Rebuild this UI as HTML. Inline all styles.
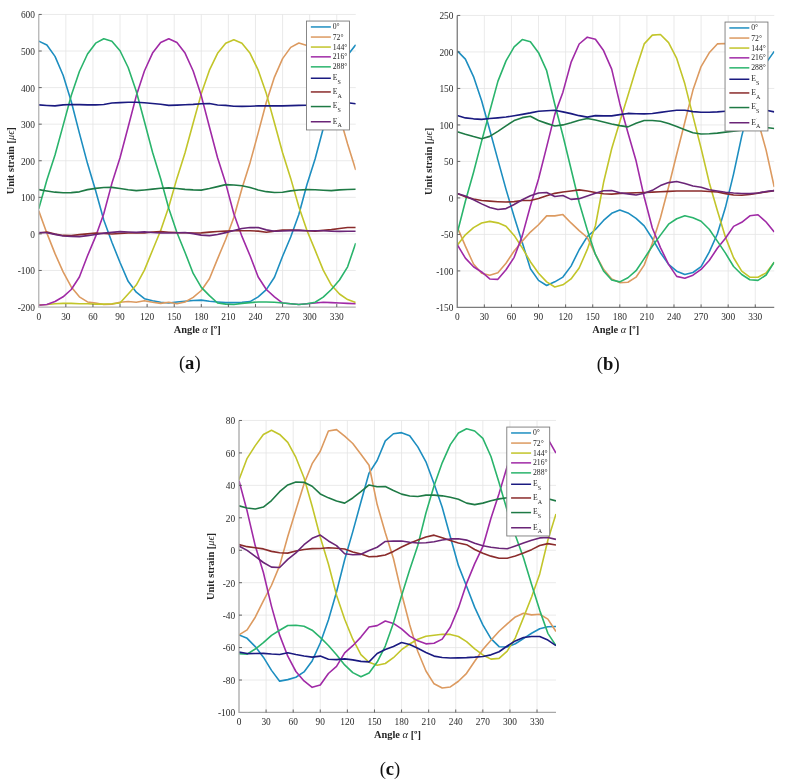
<!DOCTYPE html>
<html><head><meta charset="utf-8"><title>Unit strain vs angle</title>
<style>
html,body{margin:0;padding:0;background:#fff;}
svg{display:block;}
.tk{font-family:"Liberation Serif",serif;font-size:9.4px;fill:#2a2a2a;}
.xl{font-family:"Liberation Serif",serif;font-size:10.4px;font-weight:bold;fill:#262626;}
.al{font-style:italic;font-weight:normal;}
.cap{font-family:"Liberation Serif",serif;font-size:18.6px;fill:#111;}
.lg{font-family:"Liberation Serif",serif;font-size:7.7px;fill:#1e1e1e;}
.lgs{font-family:"Liberation Serif",serif;font-size:6.0px;fill:#1e1e1e;}
.lgp{font-family:"Liberation Serif",serif;font-size:4px;fill:#999;}
</style></head>
<body>
<svg width="785" height="784" viewBox="0 0 785 784">
<rect width="785" height="784" fill="#fff"/>
<clipPath id="clipa"><rect x="38.75" y="13.45" width="316.99" height="294.6"/></clipPath>
<path d="M65.84 14.45V307.05M92.94 14.45V307.05M120.03 14.45V307.05M147.12 14.45V307.05M174.22 14.45V307.05M201.31 14.45V307.05M228.4 14.45V307.05M255.49 14.45V307.05M282.59 14.45V307.05M309.68 14.45V307.05M336.77 14.45V307.05M38.75 270.48H355.74M38.75 233.9H355.74M38.75 197.32H355.74M38.75 160.75H355.74M38.75 124.17H355.74M38.75 87.6H355.74M38.75 51.03H355.74M38.75 14.45H355.74" stroke="#e4e4e4" stroke-width="0.8" fill="none"/>
<polyline clip-path="url(#clipa)" points="38.75,41.15 46.88,45.09 55.01,56.36 63.13,75.29 71.26,101.43 79.39,133.13 87.52,163.6 95.65,190.74 103.77,219.92 111.9,242.21 120.03,262.55 128.16,281.35 136.28,292.22 144.41,298.7 152.54,300.83 160.67,302.3 168.8,303.03 176.92,301.93 185.05,301.2 193.18,300.47 201.31,300.1 209.44,301.2 217.56,301.93 225.69,302.66 233.82,302.66 241.95,302.3 250.08,301.58 258.2,296.86 266.33,289.61 274.46,277.28 282.59,256.24 290.71,237.02 298.84,214.53 306.97,184.42 315.1,159.03 323.23,128.56 331.35,97.73 339.48,73.07 347.61,55.3 355.74,44.78" stroke="#1d8ec0" stroke-width="1.6" fill="none" stroke-linejoin="round"/>
<polyline clip-path="url(#clipa)" points="38.75,210.86 46.88,233.17 55.01,253.65 63.13,271.94 71.26,286.93 79.39,296.81 87.52,301.93 95.65,303.03 103.77,304.49 111.9,304.12 120.03,302.3 128.16,301.56 136.28,302.3 144.41,300.83 152.54,302.3 160.67,303.39 168.8,302.3 176.92,303.76 185.05,301.93 193.18,297.42 201.31,290.49 209.44,278.79 217.56,258.83 225.69,239.51 233.82,217.51 241.95,188.41 250.08,162.64 258.2,132.91 266.33,102.29 274.46,77.08 282.59,58.64 290.71,47.38 298.84,43.01 306.97,45.59 315.1,54.13 323.23,68.82 331.35,89.48 339.48,115.64 347.61,143.98 355.74,170.11" stroke="#dc9a60" stroke-width="1.6" fill="none" stroke-linejoin="round"/>
<polyline clip-path="url(#clipa)" points="38.75,304.86 46.88,304.49 55.01,303.76 63.13,303.39 71.26,303.39 79.39,303.76 87.52,303.76 95.65,304.12 103.77,304.12 111.9,303.76 120.03,303.03 128.16,293.98 136.28,285.07 144.41,270.15 152.54,250.18 160.67,230.54 168.8,206.77 176.92,178.4 185.05,152.71 193.18,122.94 201.31,93.61 209.44,70.18 217.56,53.28 225.69,43.22 233.82,39.69 241.95,43.22 250.08,53.28 258.2,70.18 266.33,93.61 274.46,122.94 282.59,152.71 290.71,178.4 298.84,206.77 306.97,230.54 315.1,250.18 323.23,270.15 331.35,285.07 339.48,293.98 347.61,299.58 355.74,302.57" stroke="#c2c52a" stroke-width="1.6" fill="none" stroke-linejoin="round"/>
<polyline clip-path="url(#clipa)" points="38.75,305.22 46.88,304.49 55.01,301.56 63.13,296.8 71.26,289.48 79.39,277.04 87.52,255.81 95.65,236.41 103.77,213.72 111.9,183.34 120.03,157.72 128.16,126.98 136.28,95.87 144.41,70.98 152.54,53.05 160.67,42.43 168.8,38.77 176.92,42.43 185.05,53.05 193.18,70.98 201.31,95.87 209.44,126.98 217.56,157.72 225.69,183.34 233.82,213.72 241.95,236.41 250.08,255.81 258.2,277.04 266.33,289.48 274.46,296.8 282.59,303.03 290.71,303.76 298.84,304.49 306.97,303.76 315.1,303.03 323.23,302.3 331.35,302.66 339.48,303.03 347.61,303.39 355.74,303.76" stroke="#a02aa6" stroke-width="1.6" fill="none" stroke-linejoin="round"/>
<polyline clip-path="url(#clipa)" points="38.75,208.67 46.88,180.01 55.01,154.96 63.13,125.37 71.26,95.44 79.39,71.5 87.52,53.97 95.65,43.17 103.77,38.81 111.9,41.28 120.03,50.75 128.16,67.5 136.28,91.28 144.41,121.42 152.54,152.29 160.67,178.82 168.8,208.46 176.92,232.49 185.05,252.47 193.18,273.44 201.31,287.38 209.44,295.57 217.56,303.03 225.69,304.12 233.82,304.49 241.95,303.39 250.08,302.66 258.2,301.93 266.33,301.93 274.46,302.3 282.59,303.03 290.71,303.76 298.84,304.49 306.97,303.76 315.1,302.3 323.23,297.17 331.35,289.49 339.48,279.98 347.61,266.82 355.74,243.04" stroke="#2ab46c" stroke-width="1.6" fill="none" stroke-linejoin="round"/>
<polyline clip-path="url(#clipa)" points="38.75,104.9 46.88,105.46 55.01,105.85 63.13,104.88 71.26,104.5 79.39,104.64 87.52,104.9 95.65,104.9 103.77,104.5 111.9,102.96 120.03,102.63 128.16,102.21 136.28,102.19 144.41,102.79 152.54,103.47 160.67,104.19 168.8,105.38 176.92,105.08 185.05,104.72 193.18,104.33 201.31,103.75 209.44,103.43 217.56,105.04 225.69,105.34 233.82,106.29 241.95,106.4 250.08,106.19 258.2,105.89 266.33,105.89 274.46,105.89 282.59,105.89 290.71,105.64 298.84,105.4 306.97,105.16 315.1,104.61 323.23,104.06 331.35,102.96 339.48,101.86 347.61,102.78 355.74,103.69" stroke="#1a1a80" stroke-width="1.6" fill="none" stroke-linejoin="round"/>
<polyline clip-path="url(#clipa)" points="38.75,232.95 46.88,232.05 55.01,234.13 63.13,235.42 71.26,235.46 79.39,234.64 87.52,233.83 95.65,233.04 103.77,233.45 111.9,234.01 120.03,233.45 128.16,232.95 136.28,232.95 144.41,232.95 152.54,231.99 160.67,231.67 168.8,232.18 176.92,232.58 185.05,232.77 193.18,232.94 201.31,232.84 209.44,232.1 217.56,231.52 225.69,231.13 233.82,230.79 241.95,230.79 250.08,230.79 258.2,231.14 266.33,232.18 274.46,231.14 282.59,230.13 290.71,230.13 298.84,230.25 306.97,230.77 315.1,231.15 323.23,230.4 331.35,229.6 339.48,228.46 347.61,227.57 355.74,227.57" stroke="#8a2b2b" stroke-width="1.6" fill="none" stroke-linejoin="round"/>
<polyline clip-path="url(#clipa)" points="38.75,189.64 46.88,190.96 55.01,192.17 63.13,192.75 71.26,192.66 79.39,191.84 87.52,189.64 95.65,188.36 103.77,187.57 111.9,187.41 120.03,188.46 128.16,189.69 136.28,190.66 144.41,189.96 152.54,189.15 160.67,188.26 168.8,187.89 176.92,188.55 185.05,189.37 193.18,189.85 201.31,190.09 209.44,188.53 217.56,186.63 225.69,184.63 233.82,185.01 241.95,185.8 250.08,187.45 258.2,189.92 266.33,191.66 274.46,192.57 282.59,192.27 290.71,190.89 298.84,190.01 306.97,189.64 315.1,189.76 323.23,190.28 331.35,190.65 339.48,189.83 347.61,189.48 355.74,189.28" stroke="#1e7a45" stroke-width="1.6" fill="none" stroke-linejoin="round"/>
<polyline clip-path="url(#clipa)" points="38.75,232.51 46.88,232.81 55.01,234.38 63.13,236.02 71.26,236.41 79.39,236.64 87.52,235.66 95.65,234.49 103.77,233.1 111.9,232.35 120.03,231.67 128.16,231.98 136.28,232.35 144.41,231.85 152.54,232.56 160.67,232.95 168.8,232.95 176.92,232.77 185.05,232.58 193.18,233.62 201.31,235.16 209.44,235.63 217.56,234.47 225.69,232.64 233.82,230.56 241.95,228.44 250.08,227.54 258.2,227.6 266.33,229.88 274.46,231.3 282.59,231.01 290.71,230.61 298.84,230.41 306.97,230.7 315.1,230.79 323.23,230.79 331.35,231.21 339.48,231.41 347.61,231.32 355.74,231.23" stroke="#6a2577" stroke-width="1.6" fill="none" stroke-linejoin="round"/>
<path d="M38.75 14.45V307.05H355.74" stroke="#b4b4b4" stroke-width="1.3" fill="none"/>
<path d="M65.84 307.05v-3M92.94 307.05v-3M120.03 307.05v-3M147.12 307.05v-3M174.22 307.05v-3M201.31 307.05v-3M228.4 307.05v-3M255.49 307.05v-3M282.59 307.05v-3M309.68 307.05v-3M336.77 307.05v-3M38.75 270.48h3M38.75 233.9h3M38.75 197.32h3M38.75 160.75h3M38.75 124.17h3M38.75 87.6h3M38.75 51.03h3M38.75 14.45h3" stroke="#555" stroke-width="0.9" fill="none"/>
<text x="38.75" y="319.65" class="tk" text-anchor="middle">0</text>
<text x="65.84" y="319.65" class="tk" text-anchor="middle">30</text>
<text x="92.94" y="319.65" class="tk" text-anchor="middle">60</text>
<text x="120.03" y="319.65" class="tk" text-anchor="middle">90</text>
<text x="147.12" y="319.65" class="tk" text-anchor="middle">120</text>
<text x="174.22" y="319.65" class="tk" text-anchor="middle">150</text>
<text x="201.31" y="319.65" class="tk" text-anchor="middle">180</text>
<text x="228.4" y="319.65" class="tk" text-anchor="middle">210</text>
<text x="255.49" y="319.65" class="tk" text-anchor="middle">240</text>
<text x="282.59" y="319.65" class="tk" text-anchor="middle">270</text>
<text x="309.68" y="319.65" class="tk" text-anchor="middle">300</text>
<text x="336.77" y="319.65" class="tk" text-anchor="middle">330</text>
<text x="34.95" y="310.95" class="tk" text-anchor="end">-200</text>
<text x="34.95" y="274.38" class="tk" text-anchor="end">-100</text>
<text x="34.95" y="237.8" class="tk" text-anchor="end">0</text>
<text x="34.95" y="201.22" class="tk" text-anchor="end">100</text>
<text x="34.95" y="164.65" class="tk" text-anchor="end">200</text>
<text x="34.95" y="128.07" class="tk" text-anchor="end">300</text>
<text x="34.95" y="91.5" class="tk" text-anchor="end">400</text>
<text x="34.95" y="54.93" class="tk" text-anchor="end">500</text>
<text x="34.95" y="18.35" class="tk" text-anchor="end">600</text>
<text x="197.24" y="332.65" class="xl" text-anchor="middle">Angle <tspan class="al">α</tspan> [º]</text>
<text transform="translate(13.75 160.75) rotate(-90)" class="xl" text-anchor="middle">Unit strain [<tspan class="al">μϵ</tspan>]</text>
<text x="189.74" y="369.15" class="cap" text-anchor="middle">(<tspan font-weight="bold">a</tspan>)</text>
<rect x="306.54" y="21.05" width="42.9" height="108.9" fill="#fff" stroke="#7a7a7a" stroke-width="0.9"/>
<path d="M310.84 26.95h20" stroke="#1d8ec0" stroke-width="1.5"/>
<text x="332.74" y="29.45" class="lg">0°</text>
<path d="M310.84 37.05h20" stroke="#dc9a60" stroke-width="1.5"/>
<text x="332.74" y="39.55" class="lg">72°</text>
<path d="M310.84 47.05h20" stroke="#c2c52a" stroke-width="1.5"/>
<text x="332.74" y="49.55" class="lg">144°</text>
<path d="M310.84 56.85h20" stroke="#a02aa6" stroke-width="1.5"/>
<text x="332.74" y="59.35" class="lg">216°</text>
<path d="M310.84 66.85h20" stroke="#2ab46c" stroke-width="1.5"/>
<text x="332.74" y="69.35" class="lg">288°</text>
<path d="M310.84 78.25h20" stroke="#1a1a80" stroke-width="1.5"/>
<text x="332.74" y="80.15" class="lg">E</text>
<text x="337.54" y="83.95" class="lgs">S</text>
<path d="M310.84 91.95h20" stroke="#8a2b2b" stroke-width="1.5"/>
<text x="332.74" y="93.85" class="lg">E</text>
<text x="337.54" y="97.65" class="lgs">A</text>
<path d="M310.84 106.55h20" stroke="#1e7a45" stroke-width="1.5"/>
<text x="332.74" y="108.45" class="lg">E</text>
<text x="337.54" y="112.25" class="lgs">S</text>
<text x="337.94" y="104.95" class="lgp">'</text>
<path d="M310.84 121.75h20" stroke="#6a2577" stroke-width="1.5"/>
<text x="332.74" y="123.65" class="lg">E</text>
<text x="337.54" y="127.45" class="lgs">A</text>
<text x="337.94" y="120.15" class="lgp">'</text>
<clipPath id="clipb"><rect x="457.25" y="14.45" width="316.99" height="293.95"/></clipPath>
<path d="M484.34 15.45V307.4M511.44 15.45V307.4M538.53 15.45V307.4M565.62 15.45V307.4M592.72 15.45V307.4M619.81 15.45V307.4M646.9 15.45V307.4M673.99 15.45V307.4M701.09 15.45V307.4M728.18 15.45V307.4M755.27 15.45V307.4M457.25 270.91H774.24M457.25 234.41H774.24M457.25 197.92H774.24M457.25 161.42H774.24M457.25 124.93H774.24M457.25 88.44H774.24M457.25 51.94H774.24M457.25 15.45H774.24" stroke="#e4e4e4" stroke-width="0.8" fill="none"/>
<polyline clip-path="url(#clipb)" points="457.25,50.85 465.38,59.14 473.51,76.58 481.63,100.79 489.76,130.07 497.89,159.91 506.02,189.34 514.15,216.71 522.27,242.53 530.4,268.72 538.53,280.39 546.66,285.5 554.78,281.85 562.91,277.07 571.04,266.12 579.17,249.74 587.3,236.6 595.42,229.49 603.55,220.43 611.68,213.3 619.81,209.96 627.94,212.88 636.06,218.36 644.19,225.88 652.32,238.52 660.45,252.7 668.58,264.34 676.7,271.18 684.83,274.56 692.96,272.5 701.09,266.53 709.21,252.16 717.34,233.98 725.47,207.32 733.6,173.83 741.73,136.13 749.85,104.49 757.98,81.14 766.11,62.89 774.24,51.36" stroke="#1d8ec0" stroke-width="1.6" fill="none" stroke-linejoin="round"/>
<polyline clip-path="url(#clipb)" points="457.25,227.11 465.38,246.17 473.51,264.03 481.63,273.19 489.76,275.21 497.89,272.78 506.02,263.2 514.15,250.98 522.27,241.14 530.4,232.06 538.53,224.73 546.66,215.87 554.78,215.86 562.91,214.57 571.04,222.94 579.17,230.56 587.3,237.51 595.42,254.28 603.55,269.35 611.68,279 619.81,282.58 627.94,282.25 636.06,277.18 644.19,265.14 652.32,243.26 660.45,217.72 668.58,186.97 676.7,154.25 684.83,122.19 692.96,90.08 701.09,66.54 709.21,52.81 717.34,43.92 725.47,43.54 733.6,50.08 741.73,67.03 749.85,91.68 757.98,120.88 766.11,150.11 774.24,186.97" stroke="#dc9a60" stroke-width="1.6" fill="none" stroke-linejoin="round"/>
<polyline clip-path="url(#clipb)" points="457.25,245.36 465.38,234.82 473.51,227.67 481.63,223 489.76,221.35 497.89,222.84 506.02,226.32 514.15,235.42 522.27,247.86 530.4,261.68 538.53,273.29 546.66,281.91 554.78,286.95 562.91,284.8 571.04,278.9 579.17,268.03 587.3,249.43 595.42,225.73 603.55,182.53 611.68,148.79 619.81,121.85 627.94,95.42 636.06,68.73 644.19,43.89 652.32,35.16 660.45,34.47 668.58,42.67 676.7,58.47 684.83,83.84 692.96,116.17 701.09,148.29 709.21,182.41 717.34,210.47 725.47,237.15 733.6,257.77 741.73,271.09 749.85,277.18 757.98,277.18 766.11,272.88 774.24,262.15" stroke="#c2c52a" stroke-width="1.6" fill="none" stroke-linejoin="round"/>
<polyline clip-path="url(#clipb)" points="457.25,244.63 465.38,258.16 473.51,266.75 481.63,271.96 489.76,278.96 497.89,279.35 506.02,269.77 514.15,257.33 522.27,235.87 530.4,205.96 538.53,178.94 546.66,146.83 554.78,114.35 562.91,92.16 571.04,62.42 579.17,44 587.3,37.15 595.42,39.25 603.55,50.58 611.68,69.14 619.81,103.66 627.94,132.72 636.06,160.84 644.19,197 652.32,227.97 660.45,247.59 668.58,264.34 676.7,276.38 684.83,278.2 692.96,275.19 701.09,269.45 709.21,260.55 717.34,248.22 725.47,238.18 733.6,226.38 741.73,222.28 749.85,215.8 757.98,214.77 766.11,222 774.24,231.93" stroke="#a02aa6" stroke-width="1.6" fill="none" stroke-linejoin="round"/>
<polyline clip-path="url(#clipb)" points="457.25,232.95 465.38,201.31 473.51,172.42 481.63,141.1 489.76,111.18 497.89,81.41 506.02,60.91 514.15,46.83 522.27,39.54 530.4,41.73 538.53,52.67 546.66,70.69 554.78,104.26 562.91,135.46 571.04,169.06 579.17,202.49 587.3,229.91 595.42,254.4 603.55,270.98 611.68,280.06 619.81,281.85 627.94,277.74 636.06,270.69 644.19,258.58 652.32,246.27 660.45,235.14 668.58,224.19 676.7,218.72 684.83,215.8 692.96,217.79 701.09,221.27 709.21,229.28 717.34,241.1 725.47,253.17 733.6,266.53 741.73,274.46 749.85,279.72 757.98,280.39 766.11,274.99 774.24,262.15" stroke="#2ab46c" stroke-width="1.6" fill="none" stroke-linejoin="round"/>
<polyline clip-path="url(#clipb)" points="457.25,115.44 465.38,117.9 473.51,118.83 481.63,119.35 489.76,118.54 497.89,117.84 506.02,117 514.15,115.73 522.27,114.34 530.4,112.87 538.53,111.21 546.66,110.71 554.78,110.21 562.91,111.85 571.04,113.64 579.17,115.66 587.3,117.09 595.42,115.59 603.55,115.83 611.68,115.88 619.81,114.59 627.94,113.42 636.06,113.74 644.19,113.89 652.32,113.45 660.45,112.37 668.58,111.21 676.7,110.21 684.83,110.19 692.96,111.65 701.09,112.3 709.21,112.3 717.34,111.85 725.47,111.2 733.6,111.03 741.73,110.85 749.85,110.68 757.98,110.51 766.11,110.33 774.24,111.87" stroke="#1a1a80" stroke-width="1.6" fill="none" stroke-linejoin="round"/>
<polyline clip-path="url(#clipb)" points="457.25,193.54 465.38,196.88 473.51,198.92 481.63,200.57 489.76,201.15 497.89,201.68 506.02,202.06 514.15,201.62 522.27,200.55 530.4,200.55 538.53,198.44 546.66,195.81 554.78,193.35 562.91,192.06 571.04,191.05 579.17,189.89 587.3,191.08 595.42,192.44 603.55,193.7 611.68,194.14 619.81,193.54 627.94,193.17 636.06,192.81 644.19,192.46 652.32,192.12 660.45,191.74 668.58,191.36 676.7,191.06 684.83,191.06 692.96,191.06 701.09,191.06 709.21,191.54 717.34,192.03 725.47,193.64 733.6,195 741.73,195.27 749.85,194.45 757.98,193.09 766.11,191.86 774.24,190.62" stroke="#8a2b2b" stroke-width="1.6" fill="none" stroke-linejoin="round"/>
<polyline clip-path="url(#clipb)" points="457.25,131.65 465.38,134.22 473.51,136.59 481.63,138.7 489.76,136.39 497.89,131.36 506.02,125.83 514.15,120.55 522.27,117.63 530.4,116.32 538.53,120.55 546.66,123.38 554.78,126.05 562.91,124.91 571.04,122.7 579.17,120.24 587.3,118.52 595.42,119.97 603.55,121.97 611.68,123.98 619.81,125.6 627.94,126.88 636.06,123.32 644.19,120.55 652.32,120.55 660.45,121.31 668.58,123.59 676.7,126.61 684.83,129.77 692.96,132.74 701.09,133.95 709.21,133.75 717.34,133.08 725.47,132.17 733.6,131.25 741.73,130.33 749.85,129.41 757.98,128.48 766.11,127.56 774.24,128.58" stroke="#1e7a45" stroke-width="1.6" fill="none" stroke-linejoin="round"/>
<polyline clip-path="url(#clipb)" points="457.25,193.54 465.38,195.97 473.51,199.74 481.63,203.89 489.76,207.43 497.89,209.57 506.02,208.59 514.15,204.52 522.27,199.76 530.4,195.82 538.53,192.96 546.66,192.43 554.78,196.46 562.91,195.44 571.04,199.38 579.17,198.65 587.3,195.94 595.42,193.25 603.55,190.71 611.68,190.47 619.81,192.81 627.94,193.9 636.06,195 644.19,193.29 652.32,190.36 660.45,185.57 668.58,182.59 676.7,181.43 684.83,183.47 692.96,186.07 701.09,187.19 709.21,189.79 717.34,190.94 725.47,192.25 733.6,193.01 741.73,193.54 749.85,193.63 757.98,193.07 766.11,191.5 774.24,190.62" stroke="#6a2577" stroke-width="1.6" fill="none" stroke-linejoin="round"/>
<path d="M457.25 15.45V307.4H774.24" stroke="#7c7c7c" stroke-width="1.3" fill="none"/>
<path d="M484.34 307.4v-3M511.44 307.4v-3M538.53 307.4v-3M565.62 307.4v-3M592.72 307.4v-3M619.81 307.4v-3M646.9 307.4v-3M673.99 307.4v-3M701.09 307.4v-3M728.18 307.4v-3M755.27 307.4v-3M457.25 270.91h3M457.25 234.41h3M457.25 197.92h3M457.25 161.42h3M457.25 124.93h3M457.25 88.44h3M457.25 51.94h3M457.25 15.45h3" stroke="#555" stroke-width="0.9" fill="none"/>
<text x="457.25" y="320" class="tk" text-anchor="middle">0</text>
<text x="484.34" y="320" class="tk" text-anchor="middle">30</text>
<text x="511.44" y="320" class="tk" text-anchor="middle">60</text>
<text x="538.53" y="320" class="tk" text-anchor="middle">90</text>
<text x="565.62" y="320" class="tk" text-anchor="middle">120</text>
<text x="592.72" y="320" class="tk" text-anchor="middle">150</text>
<text x="619.81" y="320" class="tk" text-anchor="middle">180</text>
<text x="646.9" y="320" class="tk" text-anchor="middle">210</text>
<text x="673.99" y="320" class="tk" text-anchor="middle">240</text>
<text x="701.09" y="320" class="tk" text-anchor="middle">270</text>
<text x="728.18" y="320" class="tk" text-anchor="middle">300</text>
<text x="755.27" y="320" class="tk" text-anchor="middle">330</text>
<text x="453.45" y="311.3" class="tk" text-anchor="end">-150</text>
<text x="453.45" y="274.81" class="tk" text-anchor="end">-100</text>
<text x="453.45" y="238.31" class="tk" text-anchor="end">-50</text>
<text x="453.45" y="201.82" class="tk" text-anchor="end">0</text>
<text x="453.45" y="165.32" class="tk" text-anchor="end">50</text>
<text x="453.45" y="128.83" class="tk" text-anchor="end">100</text>
<text x="453.45" y="92.34" class="tk" text-anchor="end">150</text>
<text x="453.45" y="55.84" class="tk" text-anchor="end">200</text>
<text x="453.45" y="19.35" class="tk" text-anchor="end">250</text>
<text x="615.74" y="333" class="xl" text-anchor="middle">Angle <tspan class="al">α</tspan> [º]</text>
<text transform="translate(432.25 161.42) rotate(-90)" class="xl" text-anchor="middle">Unit strain [<tspan class="al">μϵ</tspan>]</text>
<text x="608.24" y="369.5" class="cap" text-anchor="middle">(<tspan font-weight="bold">b</tspan>)</text>
<rect x="725.04" y="22.05" width="42.9" height="108.9" fill="#fff" stroke="#7a7a7a" stroke-width="0.9"/>
<path d="M729.34 27.95h20" stroke="#1d8ec0" stroke-width="1.5"/>
<text x="751.24" y="30.45" class="lg">0°</text>
<path d="M729.34 38.05h20" stroke="#dc9a60" stroke-width="1.5"/>
<text x="751.24" y="40.55" class="lg">72°</text>
<path d="M729.34 48.05h20" stroke="#c2c52a" stroke-width="1.5"/>
<text x="751.24" y="50.55" class="lg">144°</text>
<path d="M729.34 57.85h20" stroke="#a02aa6" stroke-width="1.5"/>
<text x="751.24" y="60.35" class="lg">216°</text>
<path d="M729.34 67.85h20" stroke="#2ab46c" stroke-width="1.5"/>
<text x="751.24" y="70.35" class="lg">288°</text>
<path d="M729.34 79.25h20" stroke="#1a1a80" stroke-width="1.5"/>
<text x="751.24" y="81.15" class="lg">E</text>
<text x="756.04" y="84.95" class="lgs">S</text>
<path d="M729.34 92.95h20" stroke="#8a2b2b" stroke-width="1.5"/>
<text x="751.24" y="94.85" class="lg">E</text>
<text x="756.04" y="98.65" class="lgs">A</text>
<path d="M729.34 107.55h20" stroke="#1e7a45" stroke-width="1.5"/>
<text x="751.24" y="109.45" class="lg">E</text>
<text x="756.04" y="113.25" class="lgs">S</text>
<text x="756.44" y="105.95" class="lgp">'</text>
<path d="M729.34 122.75h20" stroke="#6a2577" stroke-width="1.5"/>
<text x="751.24" y="124.65" class="lg">E</text>
<text x="756.04" y="128.45" class="lgs">A</text>
<text x="756.44" y="121.15" class="lgp">'</text>
<clipPath id="clipc"><rect x="239" y="419.47" width="316.99" height="294"/></clipPath>
<path d="M266.09 420.47V712.47M293.19 420.47V712.47M320.28 420.47V712.47M347.37 420.47V712.47M374.47 420.47V712.47M401.56 420.47V712.47M428.65 420.47V712.47M455.74 420.47V712.47M482.84 420.47V712.47M509.93 420.47V712.47M537.02 420.47V712.47M239 680.03H555.99M239 647.58H555.99M239 615.14H555.99M239 582.69H555.99M239 550.25H555.99M239 517.8H555.99M239 485.36H555.99M239 452.91H555.99M239 420.47H555.99" stroke="#e4e4e4" stroke-width="0.8" fill="none"/>
<polyline clip-path="url(#clipc)" points="239,634.93 247.13,638.34 255.26,646.61 263.38,657.17 271.51,670.36 279.64,681.16 287.77,679.63 295.9,677.23 304.02,671.91 312.15,660.9 320.28,642.98 328.41,620.02 336.53,591.94 344.66,559.82 352.79,531.61 360.92,501.98 369.05,473.07 377.17,460.48 385.3,440.91 393.43,433.74 401.56,432.65 409.69,435.72 417.81,446.86 425.94,461.84 434.07,483.72 442.2,507.28 450.33,536.78 458.45,565.66 466.58,586.27 474.71,607.41 482.84,624.9 490.96,638.6 499.09,646.69 507.22,647.01 515.35,643.76 523.48,638.58 531.6,633.27 539.73,628.78 547.86,626.74 555.99,626.49" stroke="#1d8ec0" stroke-width="1.6" fill="none" stroke-linejoin="round"/>
<polyline clip-path="url(#clipc)" points="239,634.93 247.13,629.87 255.26,617.21 263.38,600.95 271.51,585.25 279.64,565.66 287.77,536.44 295.9,509.98 304.02,483.95 312.15,463.68 320.28,451.24 328.41,431.07 336.53,429.63 344.66,436.21 352.79,443.51 360.92,454.22 369.05,465.28 377.17,504.57 385.3,532.75 393.43,558.5 401.56,593.43 409.69,624.68 417.81,651.55 425.94,670.97 434.07,683.82 442.2,687.97 450.33,686.92 458.45,681.23 466.58,673.32 474.71,661.27 482.84,649.43 490.96,640.16 499.09,631.28 507.22,623.83 515.35,616.9 523.48,613.3 531.6,614.88 539.73,614.3 547.86,619.14 555.99,631.52" stroke="#dc9a60" stroke-width="1.6" fill="none" stroke-linejoin="round"/>
<polyline clip-path="url(#clipc)" points="239,479.84 247.13,458.34 255.26,445.61 263.38,434.42 271.51,430.2 279.64,434.42 287.77,442.36 295.9,457.44 304.02,477.77 312.15,506.22 320.28,537.24 328.41,564.03 336.53,595.15 344.66,619.19 352.79,639.18 360.92,654.65 369.05,662.24 377.17,665.32 385.3,663.52 393.43,657.71 401.56,649.7 409.69,643.98 417.81,639.23 425.94,636.17 434.07,635.2 442.2,634.18 450.33,634.41 458.45,636.51 466.58,641.66 474.71,648.88 482.84,654.96 490.96,659.1 499.09,658.34 507.22,651.05 515.35,637.81 523.48,617.59 531.6,597.04 539.73,573.93 547.86,540.27 555.99,513.91" stroke="#c2c52a" stroke-width="1.6" fill="none" stroke-linejoin="round"/>
<polyline clip-path="url(#clipc)" points="239,480.65 247.13,511.08 255.26,545.83 263.38,572.55 271.51,606.36 279.64,635.16 287.77,656.21 295.9,671.5 304.02,680.9 312.15,687.33 320.28,685 328.41,673.5 336.53,666.43 344.66,652.95 352.79,645.69 360.92,637.09 369.05,627.03 377.17,625.62 385.3,621.06 393.43,623.4 401.56,628.83 409.69,636.09 417.81,640.85 425.94,643.85 434.07,643.3 442.2,639.15 450.33,627.24 458.45,607.9 466.58,583.39 474.71,563.6 482.84,546.71 490.96,518.27 499.09,493.43 507.22,466.24 515.35,449.13 523.48,439.4 531.6,434.53 539.73,434.53 547.86,438.88 555.99,453.08" stroke="#a02aa6" stroke-width="1.6" fill="none" stroke-linejoin="round"/>
<polyline clip-path="url(#clipc)" points="239,653.75 247.13,654.11 255.26,649.01 263.38,642.71 271.51,635.41 279.64,630.22 287.77,625.52 295.9,625.19 304.02,626.17 312.15,630.22 320.28,637.36 328.41,645.47 336.53,654.72 344.66,664.94 352.79,672.64 360.92,676.78 369.05,673.03 377.17,662.08 385.3,646.09 393.43,623.06 401.56,595.71 409.69,569.71 417.81,545.39 425.94,512.94 434.07,485.71 442.2,462.81 450.33,444.6 458.45,432.94 466.58,428.81 474.71,430.97 482.84,438.41 490.96,456.5 499.09,482.74 507.22,510.67 515.35,535.15 523.48,557.82 531.6,584.55 539.73,610.36 547.86,633.32 555.99,645.63" stroke="#2ab46c" stroke-width="1.6" fill="none" stroke-linejoin="round"/>
<polyline clip-path="url(#clipc)" points="239,652.12 247.13,653.58 255.26,653.5 263.38,653.34 271.51,654.07 279.64,654.48 287.77,652.8 295.9,654.53 304.02,656.02 312.15,657.13 320.28,656.09 328.41,659.32 336.53,659.64 344.66,658.88 352.79,659.91 360.92,661.39 369.05,661.86 377.17,653.48 385.3,649.55 393.43,646.53 401.56,642.5 409.69,644.57 417.81,648.31 425.94,652.45 434.07,656.1 442.2,657.56 450.33,657.96 458.45,657.87 466.58,657.61 474.71,657.13 482.84,656.46 490.96,654.85 499.09,651.74 507.22,646.02 515.35,640.93 523.48,637.57 531.6,636.55 539.73,636.55 547.86,640.05 555.99,645.63" stroke="#1a1a80" stroke-width="1.6" fill="none" stroke-linejoin="round"/>
<polyline clip-path="url(#clipc)" points="239,544.57 247.13,546.65 255.26,547.76 263.38,548.91 271.51,551.38 279.64,552.75 287.77,553.1 295.9,551.04 304.02,549.49 312.15,548.63 320.28,548.52 328.41,547.71 336.53,548.19 344.66,548.97 352.79,551.92 360.92,554 369.05,556.7 377.17,556.34 385.3,555.07 393.43,551.42 401.56,546.96 409.69,543.31 417.81,539.93 425.94,537.07 434.07,535.15 442.2,537.82 450.33,540.59 458.45,542.91 466.58,544.68 474.71,549.54 482.84,553.29 490.96,556.15 499.09,558.2 507.22,558.2 515.35,556.06 523.48,552.99 531.6,549.65 539.73,545.51 547.86,543.63 555.99,545.06" stroke="#8a2b2b" stroke-width="1.6" fill="none" stroke-linejoin="round"/>
<polyline clip-path="url(#clipc)" points="239,505.8 247.13,507.92 255.26,509.04 263.38,507.06 271.51,500.57 279.64,491.7 287.77,484.98 295.9,481.95 304.02,482.33 312.15,486.26 320.28,493.92 328.41,497.87 336.53,500.95 344.66,503.13 352.79,497.98 360.92,491.63 369.05,484.93 377.17,486.79 385.3,486.59 393.43,490.54 401.56,494.11 409.69,496.04 417.81,496.48 425.94,495.09 434.07,495.09 442.2,495.83 450.33,497.33 458.45,499.31 466.58,503.13 474.71,504.66 482.84,503.14 490.96,500.77 499.09,498.85 507.22,497.74 515.35,497.94 523.48,498.15 531.6,498.35 539.73,498.55 547.86,498.76 555.99,500.93" stroke="#1e7a45" stroke-width="1.6" fill="none" stroke-linejoin="round"/>
<polyline clip-path="url(#clipc)" points="239,546.03 247.13,550.34 255.26,556.45 263.38,562.49 271.51,567.12 279.64,567.46 287.77,559.4 295.9,552.91 304.02,544.73 312.15,538.27 320.28,535.03 328.41,540.97 336.53,545.58 344.66,553.78 352.79,554.79 360.92,554.34 369.05,550.41 377.17,547.24 385.3,541.46 393.43,540.98 401.56,541.08 409.69,542.3 417.81,543.03 425.94,542.79 434.07,541.73 442.2,540.03 450.33,538.92 458.45,538.81 466.58,540.11 474.71,543.27 482.84,545.71 490.96,547.33 499.09,548.3 507.22,548.79 515.35,545.99 523.48,543.11 531.6,540.35 539.73,537.92 547.86,537.43 555.99,539.38" stroke="#6a2577" stroke-width="1.6" fill="none" stroke-linejoin="round"/>
<path d="M239 420.47V712.47H555.99" stroke="#a8a8a8" stroke-width="1.3" fill="none"/>
<path d="M266.09 712.47v-3M293.19 712.47v-3M320.28 712.47v-3M347.37 712.47v-3M374.47 712.47v-3M401.56 712.47v-3M428.65 712.47v-3M455.74 712.47v-3M482.84 712.47v-3M509.93 712.47v-3M537.02 712.47v-3M239 680.03h3M239 647.58h3M239 615.14h3M239 582.69h3M239 550.25h3M239 517.8h3M239 485.36h3M239 452.91h3M239 420.47h3" stroke="#555" stroke-width="0.9" fill="none"/>
<text x="239" y="725.07" class="tk" text-anchor="middle">0</text>
<text x="266.09" y="725.07" class="tk" text-anchor="middle">30</text>
<text x="293.19" y="725.07" class="tk" text-anchor="middle">60</text>
<text x="320.28" y="725.07" class="tk" text-anchor="middle">90</text>
<text x="347.37" y="725.07" class="tk" text-anchor="middle">120</text>
<text x="374.47" y="725.07" class="tk" text-anchor="middle">150</text>
<text x="401.56" y="725.07" class="tk" text-anchor="middle">180</text>
<text x="428.65" y="725.07" class="tk" text-anchor="middle">210</text>
<text x="455.74" y="725.07" class="tk" text-anchor="middle">240</text>
<text x="482.84" y="725.07" class="tk" text-anchor="middle">270</text>
<text x="509.93" y="725.07" class="tk" text-anchor="middle">300</text>
<text x="537.02" y="725.07" class="tk" text-anchor="middle">330</text>
<text x="235.2" y="716.37" class="tk" text-anchor="end">-100</text>
<text x="235.2" y="683.93" class="tk" text-anchor="end">-80</text>
<text x="235.2" y="651.48" class="tk" text-anchor="end">-60</text>
<text x="235.2" y="619.04" class="tk" text-anchor="end">-40</text>
<text x="235.2" y="586.59" class="tk" text-anchor="end">-20</text>
<text x="235.2" y="554.15" class="tk" text-anchor="end">0</text>
<text x="235.2" y="521.7" class="tk" text-anchor="end">20</text>
<text x="235.2" y="489.26" class="tk" text-anchor="end">40</text>
<text x="235.2" y="456.81" class="tk" text-anchor="end">60</text>
<text x="235.2" y="424.37" class="tk" text-anchor="end">80</text>
<text x="397.49" y="738.07" class="xl" text-anchor="middle">Angle <tspan class="al">α</tspan> [º]</text>
<text transform="translate(214 566.47) rotate(-90)" class="xl" text-anchor="middle">Unit strain [<tspan class="al">μϵ</tspan>]</text>
<text x="389.99" y="774.57" class="cap" text-anchor="middle">(<tspan font-weight="bold">c</tspan>)</text>
<rect x="506.79" y="427.07" width="42.9" height="108.9" fill="#fff" stroke="#7a7a7a" stroke-width="0.9"/>
<path d="M511.09 432.97h20" stroke="#1d8ec0" stroke-width="1.5"/>
<text x="532.99" y="435.47" class="lg">0°</text>
<path d="M511.09 443.07h20" stroke="#dc9a60" stroke-width="1.5"/>
<text x="532.99" y="445.57" class="lg">72°</text>
<path d="M511.09 453.07h20" stroke="#c2c52a" stroke-width="1.5"/>
<text x="532.99" y="455.57" class="lg">144°</text>
<path d="M511.09 462.87h20" stroke="#a02aa6" stroke-width="1.5"/>
<text x="532.99" y="465.37" class="lg">216°</text>
<path d="M511.09 472.87h20" stroke="#2ab46c" stroke-width="1.5"/>
<text x="532.99" y="475.37" class="lg">288°</text>
<path d="M511.09 484.27h20" stroke="#1a1a80" stroke-width="1.5"/>
<text x="532.99" y="486.17" class="lg">E</text>
<text x="537.79" y="489.97" class="lgs">S</text>
<path d="M511.09 497.97h20" stroke="#8a2b2b" stroke-width="1.5"/>
<text x="532.99" y="499.87" class="lg">E</text>
<text x="537.79" y="503.67" class="lgs">A</text>
<path d="M511.09 512.57h20" stroke="#1e7a45" stroke-width="1.5"/>
<text x="532.99" y="514.47" class="lg">E</text>
<text x="537.79" y="518.27" class="lgs">S</text>
<text x="538.19" y="510.97" class="lgp">'</text>
<path d="M511.09 527.77h20" stroke="#6a2577" stroke-width="1.5"/>
<text x="532.99" y="529.67" class="lg">E</text>
<text x="537.79" y="533.47" class="lgs">A</text>
<text x="538.19" y="526.17" class="lgp">'</text>
</svg>
</body></html>
